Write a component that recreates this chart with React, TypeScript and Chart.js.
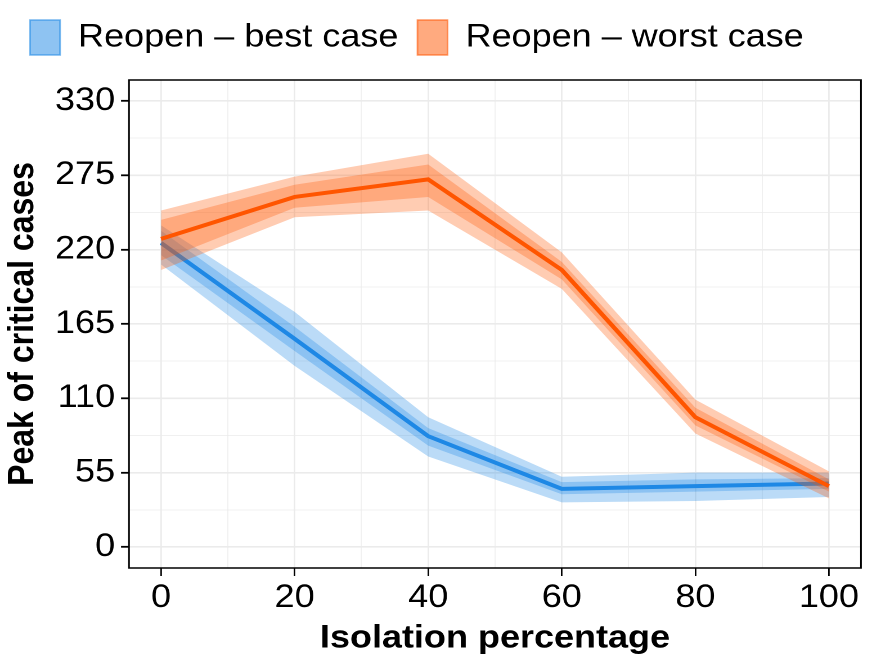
import React, { useEffect, useRef } from 'react';
import { Chart, registerables } from 'chart.js';

Chart.register(...registerables);

// x positions (isolation percentage)
const isolation = [0, 20, 40, 60, 80, 100];

// Reopen - best case
const bestLine = [225, 154, 82, 43, 45, 47];
const bestInnerHi = [234, 163, 88, 48, 50, 51];
const bestInnerLo = [216, 145, 75, 39, 41, 43];
const bestOuterHi = [238, 174, 96, 52, 55, 55];
const bestOuterLo = [209, 134, 67, 33, 34, 37];

// Reopen - worst case
const worstLine = [228, 259, 272, 205, 96, 45];
const worstInnerHi = [242, 268, 283, 211, 103, 50];
const worstInnerLo = [212, 251, 259, 198, 90, 41];
const worstOuterHi = [249, 274, 291, 218, 109, 56];
const worstOuterLo = [205, 244, 249, 191, 84, 36];

const seriesNames = ['Reopen \u2013 best case', 'Reopen \u2013 worst case'];

const xMajorTicks = [0, 20, 40, 60, 80, 100];
const xMinorTicks = [10, 30, 50, 70, 90];
const yMajorTicks = [0, 55, 110, 165, 220, 275, 330];
const yMinorTicks = [27.5, 82.5, 137.5, 192.5, 247.5, 302.5];

const BLUE = 'rgb(30,136,229)';
const ORANGE = 'rgb(255,85,0)';
const blueA = (a: number) => `rgba(30,136,229,${a})`;
const orangeA = (a: number) => `rgba(255,85,0,${a})`;

// the reference is stretched sideways, so the canvas is drawn narrower and scaled by css
const LOGICAL_W = 775;
const LOGICAL_H = 666;

const pts = (ys: number[]) => isolation.map((x, i) => ({ x, y: ys[i] }));

const band = (ys: number[], color: string, fill: boolean) => ({
  data: pts(ys),
  borderWidth: 0,
  borderColor: 'transparent',
  backgroundColor: color,
  pointRadius: 0,
  fill: fill ? '+1' : false,
});

const line = (ys: number[], color: string) => ({
  data: pts(ys),
  borderWidth: 4,
  borderColor: color,
  backgroundColor: color,
  pointRadius: 0,
  fill: false,
});

const panelBorder = {
  id: 'panelBorder',
  afterDatasetsDraw(chart: any) {
    const { ctx, chartArea } = chart;
    ctx.save();
    ctx.strokeStyle = '#000';
    ctx.lineWidth = 1.5;
    ctx.strokeRect(chartArea.left, chartArea.top, chartArea.right - chartArea.left, chartArea.bottom - chartArea.top);
    ctx.restore();
  },
};

const legendHeight = {
  id: 'legendHeight',
  beforeUpdate(chart: any) {
    const legend = chart.legend;
    if (!legend || legend._fixed) return;
    const fit = legend.fit;
    legend.fit = function () {
      fit.call(this);
      this.height = 77;
    };
    legend._fixed = true;
  },
};

const isMajor = (list: number[], v: number) => list.some((m) => Math.abs(m - v) < 1e-6);

function App() {
  const canvasRef = useRef<HTMLCanvasElement>(null);

  useEffect(() => {
    if (!canvasRef.current) return;
    const font = "'Liberation Sans', Arial, Helvetica, sans-serif";

    const chart = new Chart(canvasRef.current, {
      type: 'line',
      data: {
        datasets: [
          line(worstLine, ORANGE),
          band(worstInnerHi, orangeA(0.3), true),
          band(worstInnerLo, orangeA(0.3), false),
          band(worstOuterHi, orangeA(0.3), true),
          band(worstOuterLo, orangeA(0.3), false),
          line(bestLine, BLUE),
          band(bestInnerHi, blueA(0.3), true),
          band(bestInnerLo, blueA(0.3), false),
          band(bestOuterHi, blueA(0.3), true),
          band(bestOuterLo, blueA(0.3), false),
        ] as any,
      },
      options: {
        animation: false,
        responsive: false,
        devicePixelRatio: 2,
        layout: { padding: { left: 9.7, right: 9.8, top: 3, bottom: 0 } },
        font: { family: font },
        color: '#000',
        plugins: {
          tooltip: { enabled: false },
          legend: {
            position: 'top',
            align: 'start',
            labels: {
              boxWidth: 26.7,
              boxHeight: 35,
              padding: 17,
              color: '#000',
              font: { family: font, size: 32 },
              generateLabels: () => [
                {
                  text: seriesNames[0],
                  fillStyle: blueA(0.5),
                  strokeStyle: blueA(0.6),
                  lineWidth: 1.5,
                  hidden: false,
                  datasetIndex: 5,
                },
                {
                  text: seriesNames[1],
                  fillStyle: orangeA(0.5),
                  strokeStyle: orangeA(0.6),
                  lineWidth: 1.5,
                  hidden: false,
                  datasetIndex: 0,
                },
              ],
            },
          },
        },
        scales: {
          x: {
            type: 'linear',
            min: -4.8,
            max: 104.8,
            afterBuildTicks: (scale: any) => {
              scale.ticks = [...xMajorTicks, ...xMinorTicks].sort((a, b) => a - b).map((value) => ({ value }));
            },
            afterFit: (scale: any) => {
              scale.height = 98;
            },
            border: { display: false },
            grid: {
              color: '#EBEBEB',
              lineWidth: (c: any) => (isMajor(xMajorTicks, c.tick?.value) ? 1.4 : 0.75),
              tickColor: (c: any) => (isMajor(xMajorTicks, c.tick?.value) ? '#000' : 'transparent'),
              tickLength: 8,
              tickWidth: 1.4,
            },
            ticks: {
              color: '#000',
              padding: 3,
              maxRotation: 0,
              autoSkip: false,
              font: { family: font, size: 32 },
              callback: (v: any) => (isMajor(xMajorTicks, Number(v)) ? String(v) : ''),
            },
            title: {
              display: true,
              text: 'Isolation percentage',
              color: '#000',
              font: { family: font, size: 32, weight: 'bold' },
              padding: { top: 0, bottom: 8 },
            },
          },
          y: {
            type: 'linear',
            min: -15.54,
            max: 345.54,
            afterBuildTicks: (scale: any) => {
              scale.ticks = [...yMajorTicks, ...yMinorTicks].sort((a, b) => a - b).map((value) => ({ value }));
            },
            afterFit: (scale: any) => {
              scale.width = 104.95;
            },
            border: { display: false },
            grid: {
              color: '#EBEBEB',
              lineWidth: (c: any) => (isMajor(yMajorTicks, c.tick?.value) ? 1.6 : 0.85),
              tickColor: (c: any) => (isMajor(yMajorTicks, c.tick?.value) ? '#000' : 'transparent'),
              tickLength: 7.1,
              tickWidth: 1.8,
            },
            ticks: {
              color: '#000',
              padding: 5.3,
              autoSkip: false,
              font: { family: font, size: 32 },
              callback: (v: any) => (isMajor(yMajorTicks, Number(v)) ? String(v) : ''),
            },
            title: {
              display: true,
              text: 'Peak of critical cases',
              color: '#000',
              font: { family: font, size: 32, weight: 'bold', lineHeight: 0.7 },
              padding: 0,
            },
          },
        },
      } as any,
      plugins: [legendHeight, panelBorder],
    });

    return () => {
      chart.destroy();
    };
  }, []);

  return (
    <div style={{ position: 'absolute', left: 0, top: 0, width: 872, height: 666, background: '#fff' }}>
      <canvas
        ref={canvasRef}
        width={LOGICAL_W}
        height={LOGICAL_H}
        style={{ display: 'block', width: '872px', height: '666px' }}
      ></canvas>
    </div>
  );
}

export default App;
